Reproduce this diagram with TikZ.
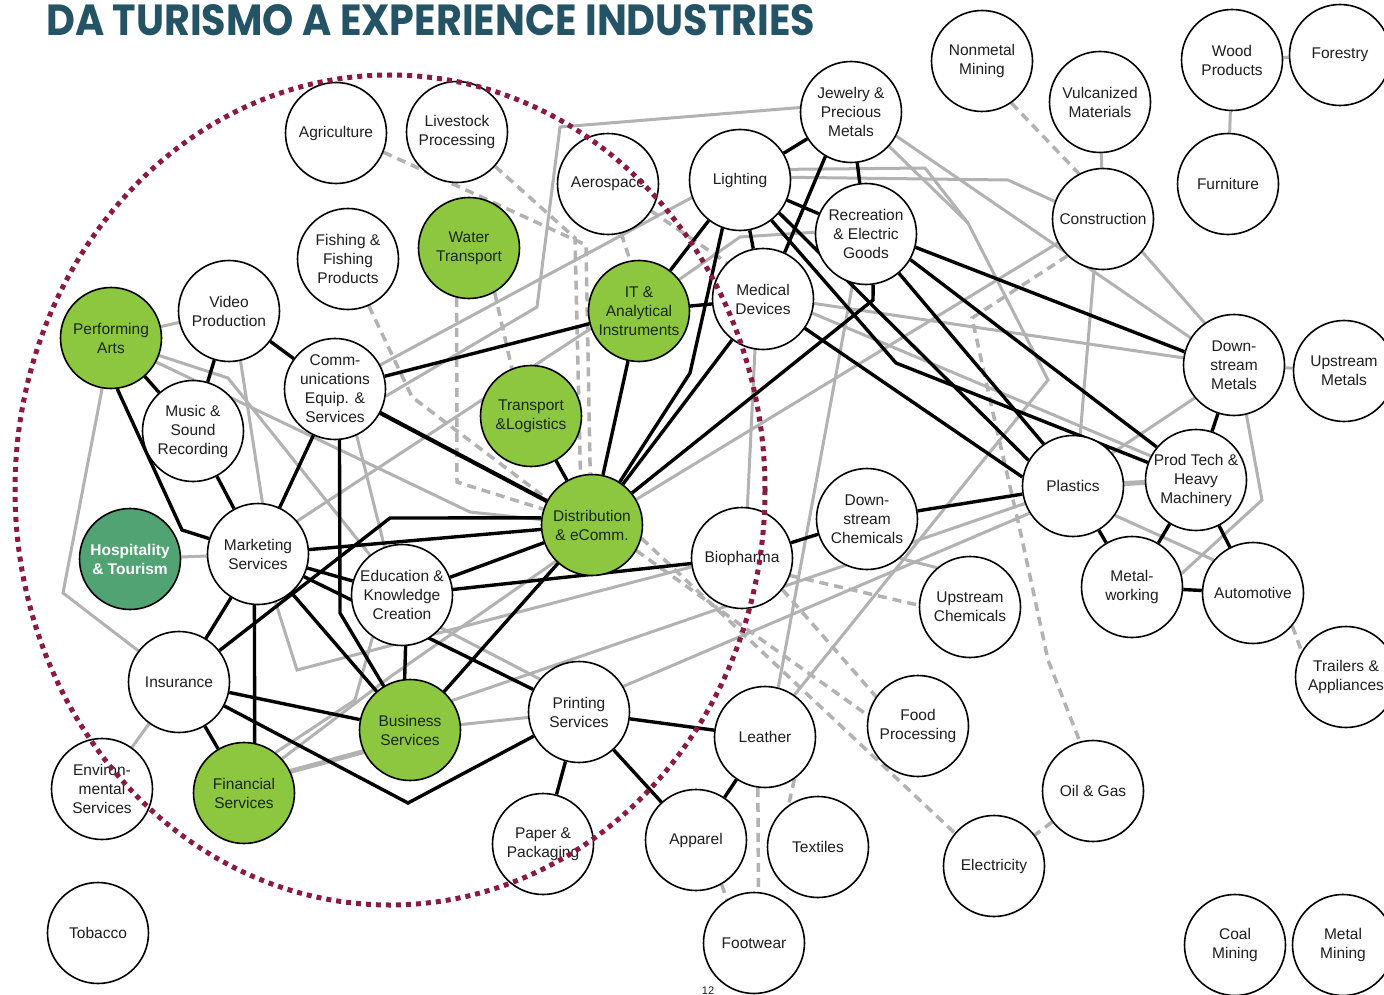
\documentclass[tikz,border=0pt]{standalone}
\usepackage{fontspec}
\usepackage{graphicx}
\setmainfont{Liberation Sans}
\newfontfamily\titlefont{Poppins}
\definecolor{grn}{RGB}{141,198,63}
\definecolor{hospc}{RGB}{82,163,115}
\definecolor{lgray}{RGB}{178,178,178}
\definecolor{dotc}{RGB}{139,26,64}
\definecolor{ttl}{RGB}{36,83,102}
\definecolor{txt}{RGB}{30,30,30}
\definecolor{gtxt}{RGB}{25,40,15}
\pgfdeclarelayer{back}
\pgfdeclarelayer{bg}
\pgfsetlayers{back,bg,main}
\tikzset{
 nd/.style={circle, draw=black, line width=1.6pt, minimum size=101pt, inner sep=0pt, align=center, font=\fontsize{15.5}{19}\selectfont, text=txt},
 wn/.style={nd, fill=white},
 gn/.style={nd, fill=grn, text=gtxt},
 hn/.style={nd, fill=hospc, text=white, font=\fontsize{15.5}{19}\selectfont\bfseries},
 blk/.style={line width=3.4pt, black},
 gry/.style={line width=3pt, lgray},
 dsh/.style={line width=3.5pt, lgray, dash pattern=on 9pt off 6pt},
}
\begin{document}
\begin{tikzpicture}[x=1pt,y=-1pt]
\useasboundingbox (0,0) rectangle (1384,995);
\begin{pgfonlayer}{back}
\fill[white] (-5,-5) rectangle (1390,1000);
\end{pgfonlayer}
\node[anchor=north west, inner sep=0pt, text=ttl] (title) at (46,4) {\resizebox{769pt}{31pt}{\titlefont\bfseries DA TURISMO A EXPERIENCE INDUSTRIES}};
% nodes
\node[wn] (agri) at (336,133) {Agriculture};
\node[wn] (live) at (457,132) {Livestock\\Processing};
\node[wn] (aero) at (608,184) {Aerospace};
\node[wn] (light) at (740,180) {Lighting};
\node[wn] (jewel) at (851,112) {Jewelry \&\\Precious\\Metals};
\node[wn] (nonmet) at (982,61) {Nonmetal\\Mining};
\node[wn] (vulc) at (1100,102) {Vulcanized\\Materials};
\node[wn] (wood) at (1232,60) {Wood\\Products};
\node[wn] (forest) at (1340,55) {Forestry};
\node[wn] (furn) at (1228,184) {Furniture};
\node[wn] (constr) at (1103,219) {Construction};
\node[wn] (recr) at (866,234) {Recreation\\\& Electric\\Goods};
\node[wn] (med) at (763,299) {Medical\\Devices};
\node[gn] (it) at (639,311) {IT \&\\Analytical\\Instruments};
\node[gn] (water) at (469,248) {Water\\Transport};
\node[wn] (fish) at (348,259) {Fishing \&\\Fishing\\Products};
\node[wn] (video) at (229,311) {Video\\Production};
\node[gn] (perf) at (111,338) {Performing\\Arts};
\node[wn] (comm) at (335,389) {Comm-\\unications\\Equip. \&\\Services};
\node[wn] (music) at (193,431) {Music \&\\Sound\\Recording};
\node[gn] (trans) at (531,416) {Transport\\\&Logistics};
\node[gn] (dist) at (592,525) {Distribution\\\& eComm.};
\node[hn] (hosp) at (130,559) {Hospitality\\\& Tourism};
\node[wn] (mkt) at (258,554) {Marketing\\Services};
\node[wn] (edu) at (402,595) {Education \&\\Knowledge\\Creation};
\node[wn] (bio) at (742,558) {Biopharma};
\node[wn] (dchem) at (867,519) {Down-\\stream\\Chemicals};
\node[wn] (uchem) at (970,607) {Upstream\\Chemicals};
\node[wn] (plast) at (1073,486) {Plastics};
\node[wn] (prod) at (1196,480) {Prod Tech \&\\Heavy\\Machinery};
\node[wn] (dmet) at (1234,365) {Down-\\stream\\Metals};
\node[wn] (umet) at (1344,371) {Upstream\\Metals};
\node[wn] (mwork) at (1132,587) {Metal-\\working};
\node[wn] (auto) at (1253,593) {Automotive};
\node[wn] (trail) at (1346,677) {Trailers \&\\Appliances};
\node[wn] (ins) at (179,682) {Insurance};
\node[wn] (env) at (102,789) {Environ-\\mental\\Services};
\node[gn] (fin) at (244,793) {Financial\\Services};
\node[gn] (bus) at (410,730) {Business\\Services};
\node[wn] (print) at (579,712) {Printing\\Services};
\node[wn] (paper) at (543,844) {Paper \&\\Packaging};
\node[wn] (app) at (696,840) {Apparel};
\node[wn] (leath) at (765,737) {Leather};
\node[wn] (textl) at (818,847) {Textiles};
\node[wn] (foot) at (754,943) {Footwear};
\node[wn] (food) at (918,726) {Food\\Processing};
\node[wn] (elec) at (994,866) {Electricity};
\node[wn] (oil) at (1093,791) {Oil \& Gas};
\node[wn] (coal) at (1235,945) {Coal\\Mining};
\node[wn] (metmin) at (1343,945) {Metal\\Mining};
\node[wn] (tob) at (98,933) {Tobacco};
\node[anchor=base, inner sep=0pt, font=\fontsize{11}{11}\selectfont, text=txt] (pnum) at (708,994) {12};
\begin{pgfonlayer}{bg}
% gray solid
\draw[gry] (perf) -- (video);
\draw[gry] (perf.-100) -- (63,593) -- (ins);
\draw[gry] (hosp) -- (mkt);
\draw[gry] (video.-77) -- (mkt.85);
\draw[gry] (perf.-20) -- (228,378) -- (edu);
\draw[gry] (perf.-28) -- (470,512) -- (dist);
\draw[gry] (comm.-65) -- (edu.110);
\draw[gry] (comm.28) -- (light.200);
\draw[gry] (mkt.40) -- (it.200);
\draw[gry] (jewel.175) -- (560,127) -- (537,307) -- (comm.-8);
\draw[gry] (it.38) -- (740,237) -- (recr.178);
\draw[gry] (light.3) -- (1008,180) -- (constr.160);
\draw[gry] (light.12) -- (925,168) -- (968,223) -- (1048,380) -- (leath.55);
\draw[gry] (jewel.-42) -- (968,223);
\draw[gry] (jewel.-28) -- (dmet.148);
\draw[gry] (dist.30) -- (constr.208);
\draw[gry] (med.-99) -- (bio.84);
\draw[gry] (recr.-105) -- (leath.75);
\draw[gry] (med.-5) -- (dmet.172);
\draw[gry] (med.-16) -- (prod.152);
\draw[gry] (constr.-100) -- (plast.82);
\draw[gry] (constr.-40) -- (dmet.125);
\draw[gry] (vulc) -- (constr);
\draw[gry] (wood) -- (furn);
\draw[gry] (wood) -- (forest);
\draw[gry] (dmet) -- (umet);
\draw[gry] (dmet.220) -- (plast.40);
\draw[gry] (dmet.-76) -- (1262,500) -- (mwork.15);
\draw[gry, line width=5pt] (plast) -- (prod);
\draw[gry] (plast.-35) -- (auto.140);
\draw[gry] (bus.35) -- (plast.200);
\draw[gry] (print.30) -- (plast.212);
\draw[gry] (mkt.-70) -- (297,670) -- (bio.190);
\draw[gry] (edu.-40) -- (print.140);
\draw[gry, line width=5pt] (fin.25) -- (bus.205);
\draw[gry] (fin.52) -- (355,700) -- (edu.235);
\draw[gry] (fin.42) -- (390,677) -- (dist.225);
\draw[gry] (bus) -- (print);
\draw[gry] (ins) -- (env);
\draw[gry] (dchem.-50) -- (uchem.130);
% gray dashed
\draw[dsh] (agri.-22) -- (586,245) -- (dist.92);
\draw[dsh] (live.-42) -- (575,238) -- (dist.103);
\draw[dsh] (water.-104) -- (457,482) -- (dist.162);
\draw[dsh] (water.-60) -- (trans.112);
\draw[dsh] (fish.-66) -- (412,397) -- (dist.150);
\draw[dsh] (aero.-75) -- (it.100);
\draw[dsh] (aero.-32) -- (med.135);
\draw[dsh] (nonmet.-55) -- (constr.118);
\draw[dsh] (constr.226) -- (972,318) -- (993,413) -- (1020,530) -- (1048,660) -- (oil.105);
\draw[dsh] (dist.-15) -- (elec.140);
\draw[dsh] (dist.-30) -- (food.168);
\draw[dsh] (bio.-38) -- (food.145);
\draw[dsh] (bio.-20) -- (uchem.178);
\draw[dsh] (oil) -- (elec);
\draw[dsh] (leath.-98) -- (foot.85);
\draw[dsh] (app.-60) -- (foot.122);
\draw[dsh] (leath.-55) -- (textl.125);
\draw[dsh] (auto.-40) -- (trail.150);
% black
\draw[blk] (video) -- (music);
\draw[blk] (video) -- (comm);
\draw[blk] (perf) -- (music);
\draw[blk] (perf.-83) -- (182,530) -- (mkt);
\draw[blk] (music) -- (mkt);
\draw[blk] (comm) -- (mkt);
\draw[blk] (comm.275) -- (340,613) -- (bus);
\draw[blk] (comm) -- (it);
\draw[blk, line width=4.2pt] (comm) -- (dist);
\draw[blk] (trans) -- (dist);
\draw[blk] (it) -- (dist);
\draw[blk] (it) -- (light);
\draw[blk] (it) -- (med);
\draw[blk] (light) -- (jewel);
\draw[blk] (light) -- (recr);
\draw[blk] (light) -- (med);
\draw[blk] (jewel) -- (recr);
\draw[blk] (jewel.240) -- (med.65);
\draw[blk] (light.-110) -- (690,373) -- (dist);
\draw[blk] (med) -- (dist);
\draw[blk] (recr.-82) -- (873,300) -- (dist);
\draw[blk] (light.-40) -- (plast.150);
\draw[blk] (light.-52) -- (896,363) -- (prod.160);
\draw[blk] (med.-35) -- (plast.170);
\draw[blk] (recr.-50) -- (plast.125);
\draw[blk] (recr.-30) -- (prod.140);
\draw[blk] (recr.-15) -- (dmet.165);
\draw[blk] (dchem) -- (plast);
\draw[blk] (plast) -- (mwork);
\draw[blk] (prod) -- (mwork);
\draw[blk] (prod) -- (auto);
\draw[blk] (prod) -- (dmet);
\draw[blk] (mwork) -- (auto);
\draw[blk] (bio) -- (dchem);
\draw[blk] (bio) -- (edu);
\draw[blk] (dist) -- (edu);
\draw[blk] (dist) -- (mkt);
\draw[blk] (dist.172) -- (390,518) -- (ins);
\draw[blk] (dist) -- (bus);
\draw[blk] (mkt) -- (edu);
\draw[blk] (mkt) -- (bus);
\draw[blk] (mkt) -- (print);
\draw[blk] (mkt.266) -- (fin.78);
\draw[blk] (mkt) -- (ins);
\draw[blk] (edu.274) -- (bus.96);
\draw[blk] (ins) -- (bus);
\draw[blk] (ins) -- (408,803) -- (print);
\draw[blk] (ins) -- (fin);
\draw[blk] (print) -- (leath);
\draw[blk] (print) -- (paper);
\draw[blk] (print) -- (app);
\draw[blk] (leath) -- (app);
\end{pgfonlayer}
% dotted boundary on top
\draw[dotc, line width=5pt, dash pattern=on 5pt off 5pt] (390,490) ellipse [x radius=375, y radius=415];
\end{tikzpicture}
\end{document}
